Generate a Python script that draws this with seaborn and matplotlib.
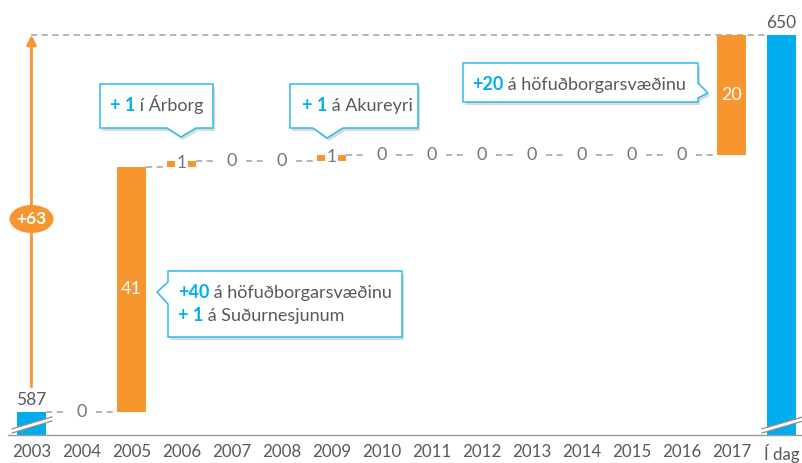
import numpy as np
import pandas as pd
import matplotlib
matplotlib.use("Agg")
import matplotlib.pyplot as plt
import seaborn as sns
from matplotlib.patches import Polygon, Ellipse

# ---------------- data ----------------
categories = ["2003", "2004", "2005", "2006", "2007", "2008", "2009", "2010",
              "2011", "2012", "2013", "2014", "2015", "2016", "2017", "Í dag"]
start_value = 587
end_value = 650
change_years = categories[1:-1]
changes = [0, 41, 1, 0, 0, 1, 0, 0, 0, 0, 0, 0, 0, 20]
total_change_label = "+63"

callout_texts = [
    [("+ 1", " í Árborg")],
    [("+ 1", " á Akureyri")],
    [("+40", " á höfuðborgarsvæðinu"), ("+ 1", " á Suðurnesjunum")],
    [("+20", " á höfuðborgarsvæðinu")],
]

# ---------------- style ----------------
BLUE = "#00AEEF"
ORANGE = "#F7962F"
GREY_TXT = "#595959"
GREY_ZERO = "#767676"
DASH = "#A0A0A0"
BORDER = "#2DB9EE"

W, H = 803, 463
sns.set_theme(style="white")
plt.rcParams["font.family"] = ["Lato", "DejaVu Sans"]

fig = plt.figure(figsize=(W / 100, H / 100), dpi=100)
ax = fig.add_axes([8 / W, 28 / H, 795 / W, 435 / H])

bar_w = 0.58
before = start_value + np.concatenate([[0], np.cumsum(changes)[:-1]])
after = start_value + np.cumsum(changes)

tot_df = pd.DataFrame({"cat": [categories[0], categories[-1]],
                       "val": [start_value, end_value]})
sns.barplot(data=tot_df, x="cat", y="val", order=categories, color=BLUE,
            width=bar_w, saturation=1, linewidth=0, ax=ax, zorder=2)
chg_df = pd.DataFrame({"cat": change_years, "val": changes})
sns.barplot(data=chg_df, x="cat", y="val", order=categories, color=ORANGE,
            width=bar_w, saturation=1, linewidth=0, bottom=before, ax=ax, zorder=2)

y_lo, y_hi = 583.16, 655.85
ax.set_xlim(-0.47, 15.43)
ax.set_ylim(y_lo, y_hi)
ax.set_xlabel("")
ax.set_ylabel("")
ax.set_yticks([])
for s in ["left", "right", "top"]:
    ax.spines[s].set_visible(False)
ax.spines["bottom"].set_color("#9A9A9A")
ax.spines["bottom"].set_linewidth(1.0)
ax.tick_params(axis="x", length=0, pad=6.5, labelsize=12.2, labelcolor=GREY_TXT)

# ---------------- connectors ----------------
levels = [start_value] + list(after) + [end_value]
dash_kw = dict(color=DASH, lw=1.1, ls=(0, (4, 3)), zorder=1)
n = len(categories)
for i in range(n - 2):
    ax.plot([i + bar_w / 2, i + 1 - bar_w / 2], [levels[i], levels[i]], **dash_kw)
# top reference line at the final total
ax.plot([0, n - 1 - bar_w / 2], [end_value, end_value], **dash_kw)

# ---------------- value labels ----------------
ax.annotate(f"{start_value}", xy=(0, start_value), xytext=(0, 3), textcoords="offset points",
            ha="center", va="bottom", fontsize=12.5, color=GREY_TXT)
ax.annotate(f"{end_value}", xy=(n - 1, end_value), xytext=(0, 3), textcoords="offset points",
            ha="center", va="bottom", fontsize=12.5, color=GREY_TXT)
for k, (cat, v) in enumerate(zip(change_years, changes)):
    i = k + 1
    if v == 0:
        ax.text(i, before[k], "0", ha="center", va="center", fontsize=13, color=GREY_ZERO,
                zorder=4, bbox=dict(boxstyle="square,pad=0.3", fc="white", ec="none"))
    elif v <= 2:
        ax.text(i, before[k] + v / 2 + 0.1, f"{v}", ha="center", va="center", fontsize=12.5,
                color=GREY_ZERO, zorder=4,
                bbox=dict(boxstyle="square,pad=0.1", fc="white", ec="none"))
    else:
        ax.text(i, before[k] + v / 2, f"{v}", ha="center", va="center", fontsize=13,
                color="white", zorder=4)

# ---------------- +63 arrow ----------------
ax.annotate("", xy=(0, end_value), xytext=(0, start_value + 4.2),
            arrowprops=dict(arrowstyle="-|>", color=ORANGE, lw=2, mutation_scale=14,
                            shrinkA=0, shrinkB=0), zorder=3)
ell_y = 619.25
ax.add_patch(Ellipse((0, ell_y), 0.88, 28 / 5.984, fc=ORANGE, ec="none", zorder=4))
ax.text(0, ell_y, total_change_label, ha="center", va="center", fontsize=12.5,
        fontweight="bold", color="white", zorder=5)

# ---------------- axis break marks ----------------
def break_mark(i, x0, x1):
    yb = y_lo + 0.33
    dy = 2.0
    t = 0.7
    pts = [(i + x0, yb), (i + x1, yb + dy), (i + x1, yb + dy + t), (i + x0, yb + t)]
    ax.add_patch(Polygon(pts, closed=True, fc="white", ec="none", zorder=5, clip_on=False))
    ax.plot([i + x0, i + x1], [yb, yb + dy], color="#8C8C8C", lw=0.9, zorder=6, clip_on=False)
    ax.plot([i + x0, i + x1], [yb + t, yb + dy + t], color="#8C8C8C", lw=0.9, zorder=6,
            clip_on=False)

break_mark(0, -0.39, 0.41)
break_mark(n - 1, -0.39, 0.43)

# ---------------- callouts ----------------
def F(px, py):
    return (px / W, 1 - py / H)

callout_shapes = [
    [(100, 84), (213, 84), (213, 128), (196, 128), (181, 137), (167, 128), (100, 128)],
    [(290, 84), (418, 84), (418, 128), (343, 128), (327, 138), (313, 128), (290, 128)],
    [(168, 271), (402, 271), (402, 337), (168, 337), (168, 304), (157, 292), (168, 282)],
    [(463, 63), (698, 63), (698, 83), (708, 93), (698, 98), (698, 102), (463, 102)],
]
text_starts = [
    [(110, 111)],
    [(302, 111)],
    [(178, 298), (178, 321)],
    [(472, 90)],
]

renderer = fig.canvas.get_renderer()
for shape, lines, starts in zip(callout_shapes, callout_texts, text_starts):
    ax.add_patch(Polygon([F(x + 2, y + 3) for x, y in shape], closed=True,
                         transform=fig.transFigure, fc="#BDBDBD", ec="none", alpha=0.55,
                         zorder=7, clip_on=False))
    ax.add_patch(Polygon([F(x, y) for x, y in shape], closed=True, transform=fig.transFigure,
                         fc="white", ec=BORDER, lw=1.1, zorder=8, clip_on=False))
    for (bold, rest), (sx, sy) in zip(lines, starts):
        t1 = ax.text(*F(sx, sy), bold, transform=fig.transFigure, ha="left", va="baseline",
                     fontsize=13, fontweight="bold", color=BLUE, zorder=9, clip_on=False)
        bb = t1.get_window_extent(renderer=renderer)
        ax.text(bb.x1 / fig.bbox.width, 1 - sy / H, rest, transform=fig.transFigure,
                ha="left", va="baseline", fontsize=13, color=GREY_TXT, zorder=9,
                clip_on=False)

fig.savefig("out.png", dpi=100)
